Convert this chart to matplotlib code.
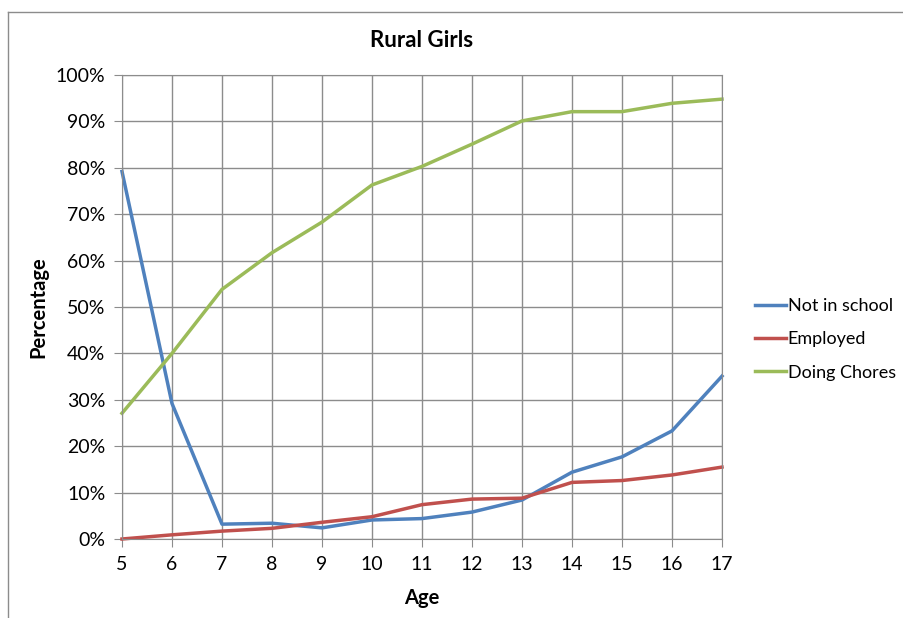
import matplotlib.pyplot as plt
import matplotlib as mpl
from matplotlib.lines import Line2D
from matplotlib.ticker import PercentFormatter, MultipleLocator

mpl.rcParams.update({"font.family": ["Lato", "DejaVu Sans"], "font.size": 13})

ages = list(range(5, 18))
not_in_school = [79.2, 29.2, 3.2, 3.4, 2.4, 4.1, 4.4, 5.8, 8.4, 14.4, 17.7, 23.3, 35.1]
employed = [0.0, 0.9, 1.7, 2.3, 3.6, 4.8, 7.4, 8.6, 8.8, 12.2, 12.6, 13.8, 15.5]
doing_chores = [27.1, 40.0, 53.8, 61.7, 68.3, 76.3, 80.3, 85.1, 90.1, 92.1, 92.1, 93.9, 94.8]

W, H = 904, 618
fig = plt.figure(figsize=(W / 100, H / 100), dpi=100)
ax = fig.add_axes([122 / W, 1 - 539 / H, 600 / W, 464 / H])

ax.plot(ages, not_in_school, color="#4F81BD", lw=2.5, label="Not in school", clip_on=False)
ax.plot(ages, employed, color="#C0504D", lw=2.5, label="Employed", clip_on=False)
ax.plot(ages, doing_chores, color="#9BBB59", lw=2.5, label="Doing Chores", clip_on=False)

ax.set_xlim(5, 17); ax.set_ylim(0, 100)
ax.xaxis.set_major_locator(MultipleLocator(1))
ax.yaxis.set_major_locator(MultipleLocator(10))
ax.yaxis.set_major_formatter(PercentFormatter(decimals=0))
ax.grid(True, color="#8c8c8c", lw=1)
ax.set_axisbelow(True)
for s in ax.spines.values():
    s.set_color("#8c8c8c")
ax.tick_params(length=6, color="#8c8c8c", labelsize=14, pad=6)

ax.set_title("Rural Girls", fontweight="bold", fontsize=16, pad=20)
ax.set_xlabel("Age", fontweight="bold", fontsize=14.5, labelpad=11)
ax.set_ylabel("Percentage", fontweight="bold", fontsize=14.5, labelpad=5)

ax.legend(loc="center left", bbox_to_anchor=(1.028, 0.43), frameon=False, fontsize=13,
          handlelength=1.7, handletextpad=0.1, labelspacing=0.95)

# chart area border (top and left visible)
fig.add_artist(Line2D([8 / W, 903 / W], [1 - 12 / H, 1 - 12 / H], color="#8c8c8c", lw=1))
fig.add_artist(Line2D([8 / W, 8 / W], [1 - 12 / H, 0], color="#8c8c8c", lw=1))

fig.savefig("out.png", dpi=100)
